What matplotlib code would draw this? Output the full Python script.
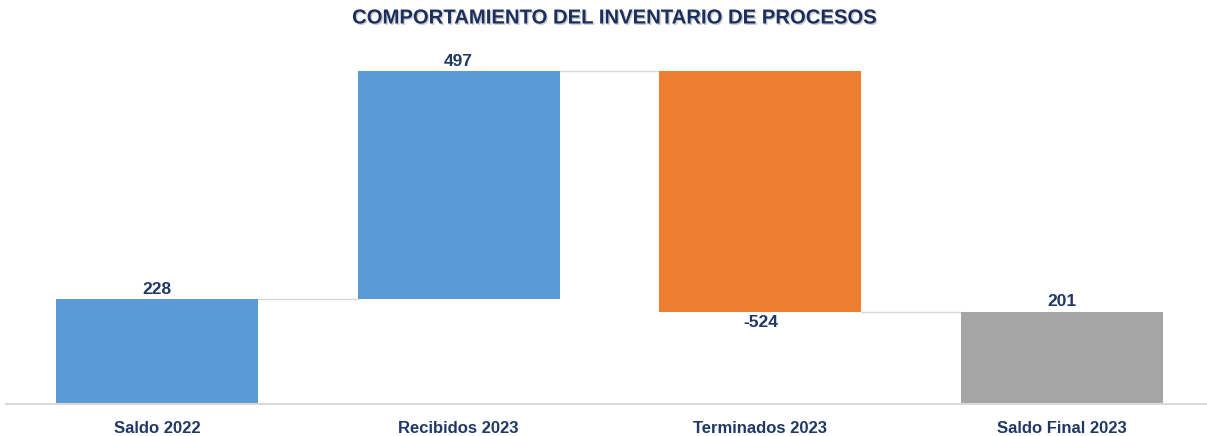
import matplotlib.pyplot as plt
import matplotlib.patheffects as pe
import numpy as np

# Datos
categorias = ['Saldo 2022', 'Recibidos 2023', 'Terminados 2023', 'Saldo Final 2023']
valores = [228, 497, -524, 201]
colores = ['#5B9BD5', '#5B9BD5', '#ED7D31', '#A5A5A5']

navy = '#1F3864'
fuente = ['Liberation Sans Narrow', 'Liberation Sans', 'DejaVu Sans']

# Base de cada barra (cascada)
bases = []
acum = 0
for i, v in enumerate(valores):
    if i == 0 or i == len(valores) - 1:
        bases.append(0)
    else:
        bases.append(acum)
    if i < len(valores) - 1:
        acum += v

fig = plt.figure(figsize=(12.07, 4.36), dpi=100)
ax = fig.add_axes([6 / 1207, 32 / 436, 1 - 6 / 1207, 367.5 / 436])

x = np.arange(len(categorias))
ancho = 0.67
ax.bar(x, valores, bottom=bases, width=ancho, color=colores, zorder=2)

# Lineas de conexion
for i in range(len(valores) - 1):
    nivel = bases[i] + valores[i]
    ax.plot([x[i] + ancho / 2, x[i + 1] - ancho / 2], [nivel, nivel],
            color='#D9D9D9', lw=1, zorder=1)

# Etiquetas de valor
for i, v in enumerate(valores):
    top = bases[i] + v
    if v >= 0:
        ax.text(x[i], top + 5, str(v), ha='center', va='bottom',
                fontsize=12.5, fontweight='bold', color=navy, family=fuente)
    else:
        ax.text(x[i], top - 8, str(v), ha='center', va='top',
                fontsize=12.5, fontweight='bold', color=navy, family=fuente)

ax.set_xlim(-0.5, 3.48)
ax.set_ylim(0, 800)
ax.set_xticks(x)
ax.set_xticklabels(categorias, fontsize=12, fontweight='bold', color=navy, family=fuente)
ax.tick_params(axis='x', length=0, pad=12)
ax.set_yticks([])
for s in ['top', 'right', 'left']:
    ax.spines[s].set_visible(False)
ax.spines['bottom'].set_color('#D9D9D9')
ax.spines['bottom'].set_linewidth(1.5)

fig.text(614 / 1207, 1 - 18 / 436, 'COMPORTAMIENTO DEL INVENTARIO DE PROCESOS', ha='center', va='center',
         fontsize=14.6, fontweight='bold', color='#1B2F5E', family=['Liberation Sans', 'DejaVu Sans'],
         path_effects=[pe.withSimplePatchShadow(offset=(1, -1), shadow_rgbFace='#808080', alpha=0.4)])

fig.savefig('out.png', dpi=100)
